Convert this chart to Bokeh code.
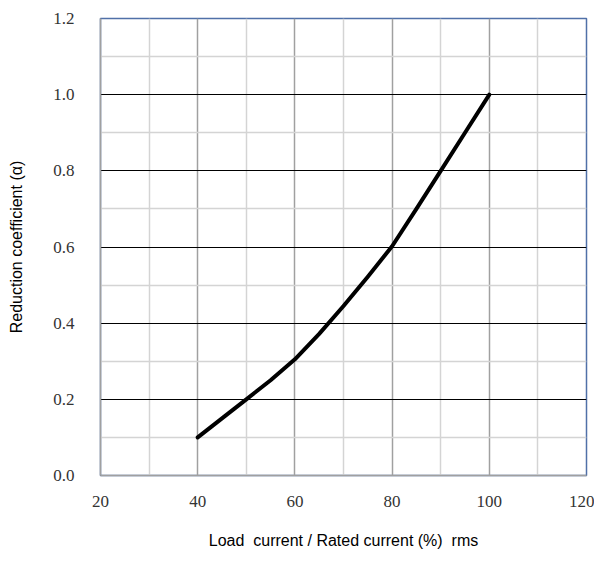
from bokeh.plotting import figure
from bokeh.models import FixedTicker, NumeralTickFormatter, Range1d
from bokeh.embed import file_html
from bokeh.resources import INLINE

load_pct = [40, 45, 50, 55, 60, 65, 70, 75, 80, 85, 90, 95, 100]
alpha = [0.10, 0.15, 0.20, 0.25, 0.305, 0.372, 0.445, 0.522, 0.602, 0.70, 0.80, 0.90, 1.00]

x_ticks = [20, 40, 60, 80, 100, 120]
x_minor = [30, 50, 70, 90, 110]
y_ticks = [0.0, 0.2, 0.4, 0.6, 0.8, 1.0, 1.2]
y_minor = [0.1, 0.3, 0.5, 0.7, 0.9, 1.1]

x_title = "Load\u00a0\u00a0current / Rated current (%)\u00a0\u00a0rms"
y_title = "Reduction coefficient (\u03b1)"

p = figure(width=594, height=556, output_backend="svg", toolbar_location=None,
           x_range=Range1d(20, 120), y_range=Range1d(0, 1.2),
           min_border_left=100, min_border_right=8, min_border_top=18, min_border_bottom=81)

p.line(load_pct, alpha, line_color="black", line_width=4, line_join="round", line_cap="round")

p.xaxis.ticker = FixedTicker(ticks=x_ticks, minor_ticks=x_minor)
p.yaxis.ticker = FixedTicker(ticks=y_ticks, minor_ticks=y_minor)
p.xgrid.ticker = p.xaxis.ticker
p.ygrid.ticker = p.yaxis.ticker
p.yaxis.formatter = NumeralTickFormatter(format="0.0")

p.xgrid.grid_line_color = "#a0a0a0"
p.xgrid.minor_grid_line_color = "#d4d4d4"
p.xgrid.grid_line_width = 1.5
p.xgrid.minor_grid_line_width = 1.5
p.ygrid.grid_line_color = "black"
p.ygrid.minor_grid_line_color = "#d4d4d4"
p.ygrid.grid_line_width = 1.2
p.ygrid.minor_grid_line_width = 1.5

p.outline_line_color = "#5070a8"
p.outline_line_width = 1.5

for ax in (p.xaxis, p.yaxis):
    ax.axis_line_color = "#a0a0a0"
    ax.axis_line_width = 1.5
    ax.major_tick_line_color = None
    ax.minor_tick_line_color = None
    ax.major_label_text_font = "Liberation Serif"
    ax.major_label_text_font_size = "17px"
    ax.major_label_text_color = "#333333"
    ax.axis_label_text_font = "Liberation Sans"
    ax.axis_label_text_font_size = "16px"
    ax.axis_label_text_font_style = "normal"
    ax.axis_label_text_color = "black"

p.xaxis.axis_label = x_title
p.yaxis.axis_label = y_title
p.xaxis.major_label_standoff = 14
p.xaxis.axis_label_standoff = 22
p.yaxis.major_label_standoff = 20
p.yaxis.axis_label_standoff = 25

open("out.html", "w").write(file_html(p, INLINE))
